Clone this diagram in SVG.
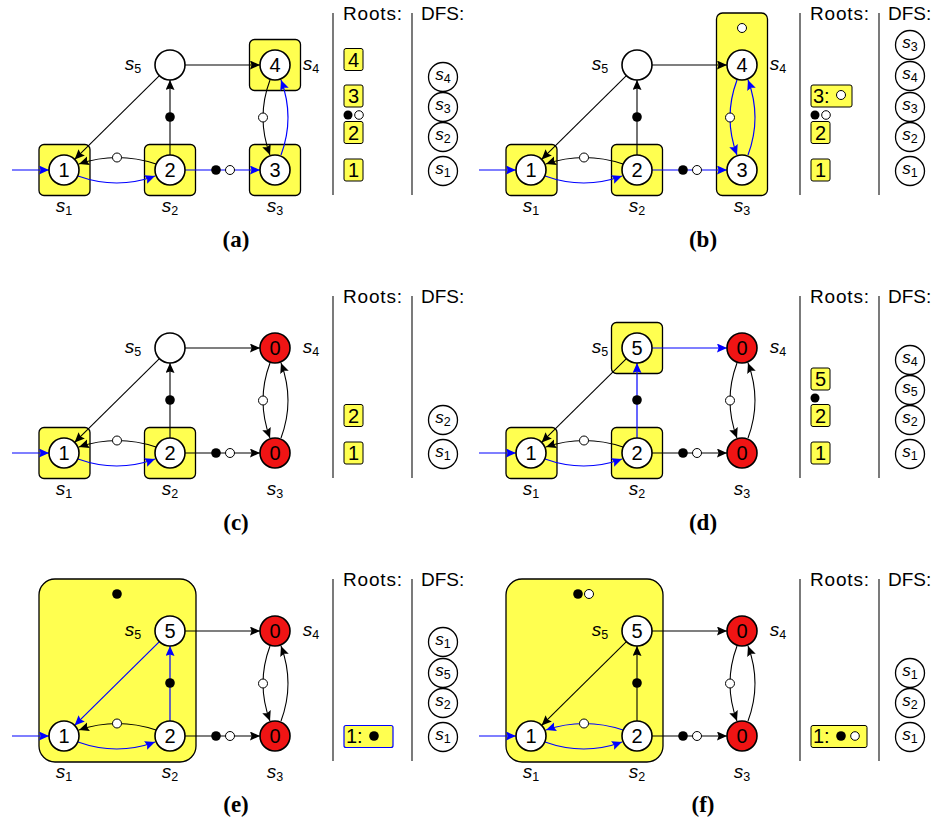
<svg xmlns="http://www.w3.org/2000/svg" width="937" height="824" viewBox="0 0 937 824">
<defs>
<marker id="ak" markerUnits="userSpaceOnUse" markerWidth="12" markerHeight="10" refX="10" refY="4.5" orient="auto"><path d="M0,0 L10,4.5 L0,9 L1.6,4.5 Z" fill="#000"/></marker>
<marker id="au" markerUnits="userSpaceOnUse" markerWidth="12" markerHeight="10" refX="10" refY="4.5" orient="auto"><path d="M0,0 L10,4.5 L0,9 L1.6,4.5 Z" fill="#00f"/></marker>
</defs>
<style>
.yb{fill:#ffff50;stroke:#000;stroke-width:1.3}
.nd{fill:#fff;stroke:#000;stroke-width:1.6}
.rd{fill:#f01414;stroke:#000;stroke-width:1.6}
.ek{fill:none;stroke:#000;stroke-width:1.1;marker-end:url(#ak)}
.eb{fill:none;stroke:#00f;stroke-width:1.2;marker-end:url(#au)}
.dk{fill:#000}
.dw{fill:#fff;stroke:#000;stroke-width:1}
.num{font-family:"Liberation Sans",Arial,sans-serif;font-size:20px;text-anchor:middle;fill:#000}
.lab{font-family:"Liberation Sans",Arial,sans-serif;font-size:19px;font-style:italic;text-anchor:middle;fill:#000}
.dl{font-family:"Liberation Sans",Arial,sans-serif;font-size:17px;font-style:italic;text-anchor:middle;fill:#000}
.sub{font-size:12.5px;font-style:normal}
.hdr{font-family:"Liberation Sans",Arial,sans-serif;font-size:19px;fill:#000}
.ttl{font-family:"Liberation Serif","Times New Roman",serif;font-weight:bold;font-size:23px;text-anchor:middle;fill:#000}
.col{stroke:#333;stroke-width:1.3}
.rb{fill:#ffff50;stroke:#000;stroke-width:1}
.rbb{fill:#ffff50;stroke:#00f;stroke-width:1.2}
.dc{fill:#fff;stroke:#000;stroke-width:1.3}
</style>

<!-- ================= PANEL A ================= -->
<g id="panel-a">
 <g id="a-sccs">
  <rect class="yb" x="39" y="144.5" width="51" height="51" rx="5"/>
  <rect class="yb" x="144.5" y="144.5" width="51" height="51" rx="5"/>
  <rect class="yb" x="249.5" y="144.5" width="51" height="51" rx="5"/>
  <rect class="yb" x="249.5" y="39.5" width="51" height="51" rx="5"/>
 </g>
 <g id="a-edges">
  <path class="eb" d="M12,170 L49,170"/>
  <path class="eb" d="M78,176 Q117,190 155,176"/>
  <path class="ek" d="M156,164 Q117,151 79,164"/>
  <path class="ek" d="M170,155 L170,80"/>
  <path class="ek" d="M159.4,75.6 L74.6,159.4"/>
  <path class="ek" d="M185,65 L260,65"/>
  <path class="eb" d="M185,170 L260,170"/>
  <path class="ek" d="M270,80 Q256,117.5 270,155"/>
  <path class="eb" d="M281,155 Q295,117.5 281,80"/>
  <circle class="dw" cx="117" cy="157.5" r="4.5"/>
  <circle class="dk" cx="170" cy="117" r="4.8"/>
  <circle class="dk" cx="216" cy="170" r="4.8"/>
  <circle class="dw" cx="230" cy="170" r="4.5"/>
  <circle class="dw" cx="263" cy="117.5" r="4.5"/>
 </g>
 <g id="a-s1"><circle class="nd" cx="64" cy="170" r="15"/><text class="num" x="64" y="177">1</text><text class="lab" x="64" y="212">s<tspan class="sub" dy="3">1</tspan></text></g>
 <g id="a-s2"><circle class="nd" cx="170" cy="170" r="15"/><text class="num" x="170" y="177">2</text><text class="lab" x="170" y="212">s<tspan class="sub" dy="3">2</tspan></text></g>
 <g id="a-s3"><circle class="nd" cx="275" cy="170" r="15"/><text class="num" x="275" y="177">3</text><text class="lab" x="275" y="212">s<tspan class="sub" dy="3">3</tspan></text></g>
 <g id="a-s4"><circle class="nd" cx="275" cy="65" r="15"/><text class="num" x="275" y="72">4</text><text class="lab" x="311" y="70">s<tspan class="sub" dy="3">4</tspan></text></g>
 <g id="a-s5"><circle class="nd" cx="170" cy="65" r="15"/><text class="lab" x="133" y="70">s<tspan class="sub" dy="3">5</tspan></text></g>
 <g id="a-roots">
  <line class="col" x1="333" y1="13" x2="333" y2="195"/>
  <line class="col" x1="412" y1="13" x2="412" y2="195"/>
  <text class="hdr" x="343" y="20" textLength="59">Roots:</text>
  <text class="hdr" x="421" y="20">DFS:</text>
  <rect class="rb" x="344" y="48.5" width="19" height="22" rx="2"/><text class="num" x="353.5" y="67">4</text>
  <rect class="rb" x="344" y="85" width="19" height="22" rx="2"/><text class="num" x="353.5" y="103">3</text>
  <circle class="dk" cx="348" cy="115" r="4.5"/><circle class="dw" cx="359" cy="115" r="4.3"/>
  <rect class="rb" x="344" y="121.5" width="19" height="22" rx="2"/><text class="num" x="353.5" y="140">2</text>
  <rect class="rb" x="344" y="159" width="19" height="22" rx="2"/><text class="num" x="353.5" y="177">1</text>
 </g>
 <g id="a-dfs">
  <circle class="dc" cx="443" cy="77" r="14.5"/><text class="dl" x="443" y="80">s<tspan class="sub" dy="3">4</tspan></text>
  <circle class="dc" cx="443" cy="107" r="14.5"/><text class="dl" x="443" y="110">s<tspan class="sub" dy="3">3</tspan></text>
  <circle class="dc" cx="443" cy="137" r="14.5"/><text class="dl" x="443" y="140">s<tspan class="sub" dy="3">2</tspan></text>
  <circle class="dc" cx="443" cy="171" r="14.5"/><text class="dl" x="443" y="174">s<tspan class="sub" dy="3">1</tspan></text>
 </g>
 <text class="ttl" x="236" y="247">(a)</text>
</g>

<!-- ================= PANEL B ================= -->
<g id="panel-b" transform="translate(467,0)">
 <g id="b-sccs">
  <rect class="yb" x="249.5" y="13" width="51" height="182.5" rx="6"/>
  <circle class="dw" cx="275" cy="28" r="4.5"/>
  <rect class="yb" x="39" y="144.5" width="51" height="51" rx="5"/>
  <rect class="yb" x="144.5" y="144.5" width="51" height="51" rx="5"/>
 </g>
 <g id="b-edges">
  <path class="eb" d="M12,170 L49,170"/>
  <path class="eb" d="M78,176 Q117,190 155,176"/>
  <path class="ek" d="M156,164 Q117,151 79,164"/>
  <path class="ek" d="M170,155 L170,80"/>
  <path class="ek" d="M159.4,75.6 L74.6,159.4"/>
  <path class="ek" d="M185,65 L260,65"/>
  <path class="eb" d="M185,170 L260,170"/>
  <path class="eb" d="M270,80 Q256,117.5 270,155"/>
  <path class="eb" d="M281,155 Q295,117.5 281,80"/>
  <circle class="dw" cx="117" cy="157.5" r="4.5"/>
  <circle class="dk" cx="170" cy="117" r="4.8"/>
  <circle class="dk" cx="216" cy="170" r="4.8"/>
  <circle class="dw" cx="230" cy="170" r="4.5"/>
  <circle class="dw" cx="263" cy="117.5" r="4.5"/>
 </g>
 <g id="b-s1"><circle class="nd" cx="64" cy="170" r="15"/><text class="num" x="64" y="177">1</text><text class="lab" x="64" y="212">s<tspan class="sub" dy="3">1</tspan></text></g>
 <g id="b-s2"><circle class="nd" cx="170" cy="170" r="15"/><text class="num" x="170" y="177">2</text><text class="lab" x="170" y="212">s<tspan class="sub" dy="3">2</tspan></text></g>
 <g id="b-s3"><circle class="nd" cx="275" cy="170" r="15"/><text class="num" x="275" y="177">3</text><text class="lab" x="275" y="212">s<tspan class="sub" dy="3">3</tspan></text></g>
 <g id="b-s4"><circle class="nd" cx="275" cy="65" r="15"/><text class="num" x="275" y="72">4</text><text class="lab" x="311" y="70">s<tspan class="sub" dy="3">4</tspan></text></g>
 <g id="b-s5"><circle class="nd" cx="170" cy="65" r="15"/><text class="lab" x="133" y="70">s<tspan class="sub" dy="3">5</tspan></text></g>
 <g id="b-roots">
  <line class="col" x1="333" y1="13" x2="333" y2="195"/>
  <line class="col" x1="412" y1="13" x2="412" y2="195"/>
  <text class="hdr" x="343" y="20" textLength="59">Roots:</text>
  <text class="hdr" x="421" y="20">DFS:</text>
  <rect class="rb" x="344" y="85" width="41" height="22" rx="2"/><text class="hdr" x="346" y="103" style="font-size:20px">3:</text><circle class="dw" cx="374" cy="95" r="4.5"/>
  <circle class="dk" cx="348" cy="115" r="4.5"/><circle class="dw" cx="359" cy="115" r="4.3"/>
  <rect class="rb" x="344" y="121.5" width="19" height="22" rx="2"/><text class="num" x="353.5" y="140">2</text>
  <rect class="rb" x="344" y="159" width="19" height="22" rx="2"/><text class="num" x="353.5" y="177">1</text>
 </g>
 <g id="b-dfs">
  <circle class="dc" cx="443" cy="45" r="14.5"/><text class="dl" x="443" y="48">s<tspan class="sub" dy="3">3</tspan></text>
  <circle class="dc" cx="443" cy="76" r="14.5"/><text class="dl" x="443" y="79">s<tspan class="sub" dy="3">4</tspan></text>
  <circle class="dc" cx="443" cy="107" r="14.5"/><text class="dl" x="443" y="110">s<tspan class="sub" dy="3">3</tspan></text>
  <circle class="dc" cx="443" cy="137" r="14.5"/><text class="dl" x="443" y="140">s<tspan class="sub" dy="3">2</tspan></text>
  <circle class="dc" cx="443" cy="171" r="14.5"/><text class="dl" x="443" y="174">s<tspan class="sub" dy="3">1</tspan></text>
 </g>
 <text class="ttl" x="236" y="247">(b)</text>
</g>

<!-- ================= PANEL C ================= -->
<g id="panel-c" transform="translate(0,283)">
 <g id="c-sccs">
  <rect class="yb" x="39" y="144.5" width="51" height="51" rx="5"/>
  <rect class="yb" x="144.5" y="144.5" width="51" height="51" rx="5"/>
 </g>
 <g id="c-edges">
  <path class="eb" d="M12,170 L49,170"/>
  <path class="eb" d="M78,176 Q117,190 155,176"/>
  <path class="ek" d="M156,164 Q117,151 79,164"/>
  <path class="ek" d="M170,155 L170,80"/>
  <path class="ek" d="M159.4,75.6 L74.6,159.4"/>
  <path class="ek" d="M185,65 L260,65"/>
  <path class="ek" d="M185,170 L260,170"/>
  <path class="ek" d="M270,80 Q256,117.5 270,155"/>
  <path class="ek" d="M281,155 Q295,117.5 281,80"/>
  <circle class="dw" cx="117" cy="157.5" r="4.5"/>
  <circle class="dk" cx="170" cy="117" r="4.8"/>
  <circle class="dk" cx="216" cy="170" r="4.8"/>
  <circle class="dw" cx="230" cy="170" r="4.5"/>
  <circle class="dw" cx="263" cy="117.5" r="4.5"/>
 </g>
 <g id="c-s1"><circle class="nd" cx="64" cy="170" r="15"/><text class="num" x="64" y="177">1</text><text class="lab" x="64" y="212">s<tspan class="sub" dy="3">1</tspan></text></g>
 <g id="c-s2"><circle class="nd" cx="170" cy="170" r="15"/><text class="num" x="170" y="177">2</text><text class="lab" x="170" y="212">s<tspan class="sub" dy="3">2</tspan></text></g>
 <g id="c-s3"><circle class="rd" cx="275" cy="170" r="15"/><text class="num" x="275" y="177">0</text><text class="lab" x="275" y="212">s<tspan class="sub" dy="3">3</tspan></text></g>
 <g id="c-s4"><circle class="rd" cx="275" cy="65" r="15"/><text class="num" x="275" y="72">0</text><text class="lab" x="311" y="70">s<tspan class="sub" dy="3">4</tspan></text></g>
 <g id="c-s5"><circle class="nd" cx="170" cy="65" r="15"/><text class="lab" x="133" y="70">s<tspan class="sub" dy="3">5</tspan></text></g>
 <g id="c-roots">
  <line class="col" x1="333" y1="13" x2="333" y2="195"/>
  <line class="col" x1="412" y1="13" x2="412" y2="195"/>
  <text class="hdr" x="343" y="20" textLength="59">Roots:</text>
  <text class="hdr" x="421" y="20">DFS:</text>
  <rect class="rb" x="344" y="121.5" width="19" height="22" rx="2"/><text class="num" x="353.5" y="140">2</text>
  <rect class="rb" x="344" y="159" width="19" height="22" rx="2"/><text class="num" x="353.5" y="177">1</text>
 </g>
 <g id="c-dfs">
  <circle class="dc" cx="443" cy="137" r="14.5"/><text class="dl" x="443" y="140">s<tspan class="sub" dy="3">2</tspan></text>
  <circle class="dc" cx="443" cy="171" r="14.5"/><text class="dl" x="443" y="174">s<tspan class="sub" dy="3">1</tspan></text>
 </g>
 <text class="ttl" x="236" y="247">(c)</text>
</g>

<!-- ================= PANEL D ================= -->
<g id="panel-d" transform="translate(467,283)">
 <g id="d-sccs">
  <rect class="yb" x="39" y="144.5" width="51" height="51" rx="5"/>
  <rect class="yb" x="144.5" y="144.5" width="51" height="51" rx="5"/>
  <rect class="yb" x="144.5" y="39.5" width="51" height="51" rx="5"/>
 </g>
 <g id="d-edges">
  <path class="eb" d="M12,170 L49,170"/>
  <path class="eb" d="M78,176 Q117,190 155,176"/>
  <path class="ek" d="M156,164 Q117,151 79,164"/>
  <path class="eb" d="M170,155 L170,80"/>
  <path class="ek" d="M159.4,75.6 L74.6,159.4"/>
  <path class="eb" d="M185,65 L260,65"/>
  <path class="ek" d="M185,170 L260,170"/>
  <path class="ek" d="M270,80 Q256,117.5 270,155"/>
  <path class="ek" d="M281,155 Q295,117.5 281,80"/>
  <circle class="dw" cx="117" cy="157.5" r="4.5"/>
  <circle class="dk" cx="170" cy="117" r="4.8"/>
  <circle class="dk" cx="216" cy="170" r="4.8"/>
  <circle class="dw" cx="230" cy="170" r="4.5"/>
  <circle class="dw" cx="263" cy="117.5" r="4.5"/>
 </g>
 <g id="d-s1"><circle class="nd" cx="64" cy="170" r="15"/><text class="num" x="64" y="177">1</text><text class="lab" x="64" y="212">s<tspan class="sub" dy="3">1</tspan></text></g>
 <g id="d-s2"><circle class="nd" cx="170" cy="170" r="15"/><text class="num" x="170" y="177">2</text><text class="lab" x="170" y="212">s<tspan class="sub" dy="3">2</tspan></text></g>
 <g id="d-s3"><circle class="rd" cx="275" cy="170" r="15"/><text class="num" x="275" y="177">0</text><text class="lab" x="275" y="212">s<tspan class="sub" dy="3">3</tspan></text></g>
 <g id="d-s4"><circle class="rd" cx="275" cy="65" r="15"/><text class="num" x="275" y="72">0</text><text class="lab" x="311" y="70">s<tspan class="sub" dy="3">4</tspan></text></g>
 <g id="d-s5"><circle class="nd" cx="170" cy="65" r="15"/><text class="num" x="170" y="72">5</text><text class="lab" x="133" y="70">s<tspan class="sub" dy="3">5</tspan></text></g>
 <g id="d-roots">
  <line class="col" x1="333" y1="13" x2="333" y2="195"/>
  <line class="col" x1="412" y1="13" x2="412" y2="195"/>
  <text class="hdr" x="343" y="20" textLength="59">Roots:</text>
  <text class="hdr" x="421" y="20">DFS:</text>
  <rect class="rb" x="344" y="85" width="19" height="22" rx="2"/><text class="num" x="353.5" y="103">5</text>
  <circle class="dk" cx="348" cy="115" r="4.5"/>
  <rect class="rb" x="344" y="121.5" width="19" height="22" rx="2"/><text class="num" x="353.5" y="140">2</text>
  <rect class="rb" x="344" y="159" width="19" height="22" rx="2"/><text class="num" x="353.5" y="177">1</text>
 </g>
 <g id="d-dfs">
  <circle class="dc" cx="443" cy="77" r="14.5"/><text class="dl" x="443" y="80">s<tspan class="sub" dy="3">4</tspan></text>
  <circle class="dc" cx="443" cy="107" r="14.5"/><text class="dl" x="443" y="110">s<tspan class="sub" dy="3">5</tspan></text>
  <circle class="dc" cx="443" cy="137" r="14.5"/><text class="dl" x="443" y="140">s<tspan class="sub" dy="3">2</tspan></text>
  <circle class="dc" cx="443" cy="171" r="14.5"/><text class="dl" x="443" y="174">s<tspan class="sub" dy="3">1</tspan></text>
 </g>
 <text class="ttl" x="236" y="247">(d)</text>
</g>

<!-- ================= PANEL E ================= -->
<g id="panel-e" transform="translate(0,566)">
 <g id="e-sccs">
  <rect class="yb" x="39" y="13" width="157" height="183" rx="16"/>
  <circle class="dk" cx="117" cy="28" r="4.8"/>
 </g>
 <g id="e-edges">
  <path class="eb" d="M12,170 L49,170"/>
  <path class="eb" d="M78,176 Q117,190 155,176"/>
  <path class="ek" d="M156,164 Q117,151 79,164"/>
  <path class="eb" d="M170,155 L170,80"/>
  <path class="eb" d="M159.4,75.6 L74.6,159.4"/>
  <path class="ek" d="M185,65 L260,65"/>
  <path class="ek" d="M185,170 L260,170"/>
  <path class="ek" d="M270,80 Q256,117.5 270,155"/>
  <path class="ek" d="M281,155 Q295,117.5 281,80"/>
  <circle class="dw" cx="117" cy="157.5" r="4.5"/>
  <circle class="dk" cx="170" cy="117" r="4.8"/>
  <circle class="dk" cx="216" cy="170" r="4.8"/>
  <circle class="dw" cx="230" cy="170" r="4.5"/>
  <circle class="dw" cx="263" cy="117.5" r="4.5"/>
 </g>
 <g id="e-s1"><circle class="nd" cx="64" cy="170" r="15"/><text class="num" x="64" y="177">1</text><text class="lab" x="64" y="212">s<tspan class="sub" dy="3">1</tspan></text></g>
 <g id="e-s2"><circle class="nd" cx="170" cy="170" r="15"/><text class="num" x="170" y="177">2</text><text class="lab" x="170" y="212">s<tspan class="sub" dy="3">2</tspan></text></g>
 <g id="e-s3"><circle class="rd" cx="275" cy="170" r="15"/><text class="num" x="275" y="177">0</text><text class="lab" x="275" y="212">s<tspan class="sub" dy="3">3</tspan></text></g>
 <g id="e-s4"><circle class="rd" cx="275" cy="65" r="15"/><text class="num" x="275" y="72">0</text><text class="lab" x="311" y="70">s<tspan class="sub" dy="3">4</tspan></text></g>
 <g id="e-s5"><circle class="nd" cx="170" cy="65" r="15"/><text class="num" x="170" y="72">5</text><text class="lab" x="133" y="70">s<tspan class="sub" dy="3">5</tspan></text></g>
 <g id="e-roots">
  <line class="col" x1="333" y1="13" x2="333" y2="195"/>
  <line class="col" x1="412" y1="13" x2="412" y2="195"/>
  <text class="hdr" x="343" y="20" textLength="59">Roots:</text>
  <text class="hdr" x="421" y="20">DFS:</text>
  <rect class="rbb" x="344" y="159.5" width="49" height="22" rx="2"/><text class="hdr" x="346" y="177" style="font-size:20px">1:</text><circle class="dk" cx="374" cy="170" r="4.8"/>
 </g>
 <g id="e-dfs">
  <circle class="dc" cx="443" cy="76" r="14.5"/><text class="dl" x="443" y="79">s<tspan class="sub" dy="3">1</tspan></text>
  <circle class="dc" cx="443" cy="107" r="14.5"/><text class="dl" x="443" y="110">s<tspan class="sub" dy="3">5</tspan></text>
  <circle class="dc" cx="443" cy="137" r="14.5"/><text class="dl" x="443" y="140">s<tspan class="sub" dy="3">2</tspan></text>
  <circle class="dc" cx="443" cy="171" r="14.5"/><text class="dl" x="443" y="174">s<tspan class="sub" dy="3">1</tspan></text>
 </g>
 <text class="ttl" x="236" y="246">(e)</text>
</g>

<!-- ================= PANEL F ================= -->
<g id="panel-f" transform="translate(467,566)">
 <g id="f-sccs">
  <rect class="yb" x="39" y="13" width="157" height="183" rx="16"/>
  <circle class="dk" cx="111" cy="28" r="4.8"/>
  <circle class="dw" cx="122" cy="28" r="4.5"/>
 </g>
 <g id="f-edges">
  <path class="eb" d="M12,170 L49,170"/>
  <path class="eb" d="M78,176 Q117,190 155,176"/>
  <path class="eb" d="M156,164 Q117,151 79,164"/>
  <path class="ek" d="M170,155 L170,80"/>
  <path class="ek" d="M159.4,75.6 L74.6,159.4"/>
  <path class="ek" d="M185,65 L260,65"/>
  <path class="ek" d="M185,170 L260,170"/>
  <path class="ek" d="M270,80 Q256,117.5 270,155"/>
  <path class="ek" d="M281,155 Q295,117.5 281,80"/>
  <circle class="dw" cx="117" cy="157.5" r="4.5"/>
  <circle class="dk" cx="170" cy="117" r="4.8"/>
  <circle class="dk" cx="216" cy="170" r="4.8"/>
  <circle class="dw" cx="230" cy="170" r="4.5"/>
  <circle class="dw" cx="263" cy="117.5" r="4.5"/>
 </g>
 <g id="f-s1"><circle class="nd" cx="64" cy="170" r="15"/><text class="num" x="64" y="177">1</text><text class="lab" x="64" y="212">s<tspan class="sub" dy="3">1</tspan></text></g>
 <g id="f-s2"><circle class="nd" cx="170" cy="170" r="15"/><text class="num" x="170" y="177">2</text><text class="lab" x="170" y="212">s<tspan class="sub" dy="3">2</tspan></text></g>
 <g id="f-s3"><circle class="rd" cx="275" cy="170" r="15"/><text class="num" x="275" y="177">0</text><text class="lab" x="275" y="212">s<tspan class="sub" dy="3">3</tspan></text></g>
 <g id="f-s4"><circle class="rd" cx="275" cy="65" r="15"/><text class="num" x="275" y="72">0</text><text class="lab" x="311" y="70">s<tspan class="sub" dy="3">4</tspan></text></g>
 <g id="f-s5"><circle class="nd" cx="170" cy="65" r="15"/><text class="num" x="170" y="72">5</text><text class="lab" x="133" y="70">s<tspan class="sub" dy="3">5</tspan></text></g>
 <g id="f-roots">
  <line class="col" x1="333" y1="13" x2="333" y2="195"/>
  <line class="col" x1="412" y1="13" x2="412" y2="195"/>
  <text class="hdr" x="343" y="20" textLength="59">Roots:</text>
  <text class="hdr" x="421" y="20">DFS:</text>
  <rect class="rb" x="344" y="159.5" width="56" height="22" rx="2"/><text class="hdr" x="346" y="177" style="font-size:20px">1:</text><circle class="dk" cx="374" cy="170" r="4.8"/><circle class="dw" cx="388" cy="170" r="4.3"/>
 </g>
 <g id="f-dfs">
  <circle class="dc" cx="443" cy="107" r="14.5"/><text class="dl" x="443" y="110">s<tspan class="sub" dy="3">1</tspan></text>
  <circle class="dc" cx="443" cy="137" r="14.5"/><text class="dl" x="443" y="140">s<tspan class="sub" dy="3">2</tspan></text>
  <circle class="dc" cx="443" cy="171" r="14.5"/><text class="dl" x="443" y="174">s<tspan class="sub" dy="3">1</tspan></text>
 </g>
 <text class="ttl" x="236" y="246">(f)</text>
</g>
</svg>
